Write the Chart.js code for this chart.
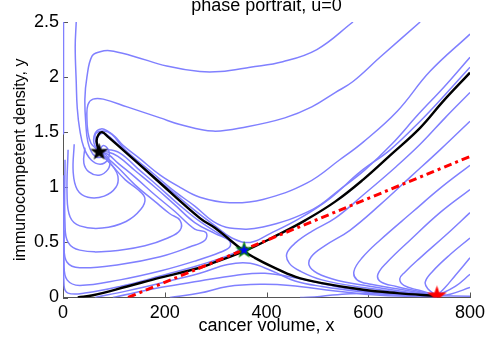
<!DOCTYPE html>
<html>
<head>
<meta charset="utf-8">
<script src="https://cdn.jsdelivr.net/npm/chart.js@4.4.1/dist/chart.umd.min.js"></script>
<style>
  html, body { margin: 0; padding: 0; background: #fff; }
</style>
</head>
<body>
<canvas id="phase" width="493" height="341"></canvas>
<script>
// phase portrait, u=0 : x = cancer volume, y = immunocompetent density
const titleText = 'phase portrait, u=0';
const xTicks = [0, 200, 400, 600, 800];
const yTicks = [0, 0.5, 1, 1.5, 2, 2.5];

// equilibria
const stableFocus = [71, 1.32];
const saddlePoint = [356, 0.43];
const tumorNode = [735, 0.015];

// separatrices (black)
const sepStable = [[29,0],[59,0.02],[126,0.10],[191,0.18],[269,0.27],[299,0.32],[356,0.42],[423,0.57],[476,0.70],[535,0.87],[590,1.07],[643,1.29],[702,1.54],[747,1.78],[800,2.04]];
const sepUnstable = [[71,1.32],[66,1.42],[70,1.48],[77,1.50],[88,1.46],[130,1.29],[181,1.08],[269,0.72],[299,0.63],[356,0.42],[377,0.36],[411,0.28],[456,0.19],[509,0.13],[590,0.07],[657,0.04],[735,0.014]];

// red dash-dot nullcline
const nullcline = [[128,0],[800,1.28]];

// blue trajectories, by region
const topLeft = [
  [[1,2.5],[1,1.48]],
  [[26,2.50],[24,2.27],[26,1.96],[28,1.72],[33,1.52],[41,1.36],[55,1.25],[73,1.21],[88,1.25],[90,1.33],[79,1.38],[71,1.32]],
  [[570,2.50],[499,2.25],[432,2.14],[368,2.09],[309,2.05],[269,2.05],[204,2.10],[138,2.19],[92,2.24],[73,2.23],[57,2.19],[47,2.00],[43,1.80],[45,1.57],[49,1.41],[59,1.30],[73,1.27],[81,1.31],[71,1.32]],
  [[702,2.50],[623,2.18],[570,1.96],[535,1.86],[489,1.73],[436,1.63],[362,1.55],[295,1.51],[230,1.57],[191,1.63],[126,1.73],[79,1.80],[59,1.80],[49,1.75],[47,1.63],[49,1.50],[55,1.40],[65,1.35],[71,1.32]]
];
const aboveSaddle = [
  [[71,1.32],[61,1.40],[63,1.49],[75,1.53],[88,1.51],[102,1.46],[118,1.38],[151,1.26],[191,1.11],[230,1.00],[269,0.91],[328,0.86],[393,0.89],[480,1.04],[544,1.25],[590,1.41],[657,1.69],[721,2.05],[800,2.39]],
  [[71,1.32],[63,1.47],[77,1.51],[96,1.48],[122,1.34],[171,1.15],[220,0.96],[259,0.83],[295,0.69],[328,0.63],[393,0.64],[491,0.80],[544,0.98],[594,1.16],[646,1.39],[698,1.66],[749,1.91],[800,2.18]],
  [[71,1.32],[67,1.44],[79,1.49],[96,1.44],[122,1.33],[171,1.13],[220,0.94],[259,0.79],[299,0.65],[332,0.54],[368,0.50],[407,0.58],[466,0.72],[525,0.90],[584,1.14],[643,1.34],[702,1.60],[751,1.84],[800,2.09]]
];
const rightOfSaddle = [
  [[800,1.86],[751,1.63],[702,1.39],[653,1.18],[590,0.93],[535,0.72],[489,0.60],[458,0.50],[440,0.40],[445,0.31],[468,0.235],[509,0.16],[590,0.09],[662,0.05],[735,0.014]],
  [[800,1.60],[741,1.34],[682,1.09],[623,0.84],[564,0.61],[515,0.47],[488,0.37],[484,0.29],[500,0.22],[540,0.155],[600,0.105],[662,0.06],[735,0.015]],
  [[800,1.20],[741,0.99],[688,0.78],[623,0.52],[588,0.36],[572,0.24],[578,0.16],[605,0.12],[662,0.075],[735,0.016]],
  [[800,0.98],[741,0.77],[682,0.52],[637,0.32],[619,0.21],[624,0.145],[655,0.10],[700,0.055],[735,0.016]],
  [[800,0.77],[751,0.56],[702,0.36],[672,0.23],[662,0.17],[670,0.11],[700,0.065],[735,0.016]],
  [[800,0.54],[761,0.39],[725,0.23],[712,0.14],[717,0.08],[735,0.016]]
];
const intoTumorNode = [
  [[800,0.36],[771,0.20],[751,0.09],[735,0.016]],
  [[800,0.21],[771,0.10],[735,0.016]],
  [[800,0.09],[761,0.03],[735,0.016]],
  [[735,0.016],[800,0.012]]
];
const belowSaddle = [
  [[63,0],[126,0.06],[191,0.13],[269,0.22],[324,0.30],[368,0.31],[411,0.24],[456,0.15],[509,0.10],[590,0.05],[662,0.02],[735,0.01]],
  [[98,0],[191,0.09],[269,0.15],[338,0.20],[397,0.22],[466,0.17],[535,0.10],[603,0.05],[672,0.02],[735,0.01]],
  [[210,0],[269,0.04],[324,0.10],[387,0.12],[446,0.11],[535,0.06],[623,0.02],[735,0.005]],
  [[466,0],[505,0.01],[564,0.035],[650,0.03],[735,0.012]]
];
const leftLoops = [
  [[43,1.36],[41,1.22],[51,1.14],[71,1.11],[88,1.16],[92,1.24],[83,1.30],[71,1.32]],
  [[22,1.39],[20,1.14],[28,0.98],[49,0.91],[81,0.92],[104,1.00],[108,1.10],[98,1.19],[85,1.26],[71,1.32]],
  [[10,1.34],[8,0.93],[14,0.73],[33,0.65],[77,0.63],[124,0.69],[153,0.80],[161,0.90],[147,0.98],[122,1.07],[96,1.20],[79,1.28],[71,1.32]],
  [[4,1.25],[4,0.66],[10,0.50],[33,0.43],[92,0.42],[161,0.47],[206,0.54],[230,0.61],[230,0.70],[210,0.76],[181,0.87],[142,1.02],[108,1.18],[86,1.27],[71,1.32]],
  [[2,1.11],[2,0.48],[8,0.32],[33,0.27],[112,0.30],[191,0.37],[250,0.46],[279,0.52],[281,0.59],[259,0.62],[220,0.78],[181,0.93],[142,1.09],[108,1.22],[88,1.30],[71,1.32]],
  [[2,0.89],[2,0.30],[8,0.16],[33,0.11],[112,0.16],[191,0.24],[259,0.33],[309,0.41],[328,0.46],[326,0.52],[299,0.58],[259,0.68],[220,0.84],[181,1.00],[142,1.15],[108,1.28],[88,1.32],[71,1.32]],
  [[2,0.61],[2,0.11],[10,0.04],[43,0.04],[112,0.10],[191,0.195],[269,0.295],[324,0.38],[344,0.43],[340,0.48],[313,0.56],[269,0.69],[226,0.85],[187,1.01],[147,1.17],[112,1.31],[88,1.34],[71,1.32]]
];

const FONT = '"Liberation Sans", Arial, Helvetica, sans-serif';
const trajBlue = '#8080ff';

function starImage(size, fill, edge) {
  const c = document.createElement('canvas');
  c.width = c.height = size + 4;
  const g = c.getContext('2d');
  const cx = c.width / 2, cy = c.height / 2, R = size / 2, r = R * 0.4;
  g.beginPath();
  for (let i = 0; i < 10; i++) {
    const rad = i % 2 ? r : R;
    const ang = -Math.PI / 2 + i * Math.PI / 5;
    g.lineTo(cx + rad * Math.cos(ang), cy + rad * Math.sin(ang));
  }
  g.closePath();
  g.fillStyle = fill;
  g.fill();
  g.strokeStyle = edge;
  g.lineWidth = 1.2;
  g.stroke();
  return c;
}

const toXY = pts => pts.map(([x, y]) => ({ x, y }));
const line = (pts, color, width, order, dash) => ({
  data: toXY(pts), showLine: true, borderColor: color, borderWidth: width,
  borderDash: dash || [], pointRadius: 0, tension: 0.4, order
});
const marker = (pt, img) => ({
  data: toXY([pt]), showLine: false, pointStyle: img, pointRadius: 8, order: 0
});

const datasets = [];
[topLeft, aboveSaddle, rightOfSaddle, intoTumorNode, belowSaddle, leftLoops]
  .forEach(group => group.forEach(t => datasets.push(line(t, trajBlue, 1.5, 3))));
datasets.push(line(sepStable, '#000', 2.4, 2));
datasets.push(line(sepUnstable, '#000', 2.4, 2));
datasets.push(line(nullcline, '#ff0000', 3, 1, [8, 4, 3, 4]));
datasets.push(marker(stableFocus, starImage(15, '#000', '#000')));
datasets.push(marker(saddlePoint, starImage(15, '#0000ff', '#008000')));
datasets.push(marker(tumorNode, starImage(17, '#ff0000', '#ff0000')));

// MATLAB-style inward ticks, title clipped at top
const inwardTicks = {
  id: 'inwardTicks',
  beforeDatasetsDraw(chart) {
    const { ctx, chartArea: a, scales: { x, y } } = chart;
    ctx.save();
    ctx.strokeStyle = '#555';
    ctx.lineWidth = 1;
    ctx.beginPath();
    x.ticks.forEach(t => {
      const p = Math.round(x.getPixelForValue(t.value)) + 0.5;
      ctx.moveTo(p, a.bottom); ctx.lineTo(p, a.bottom - 5);
    });
    y.ticks.forEach(t => {
      const p = Math.round(y.getPixelForValue(t.value)) + 0.5;
      ctx.moveTo(a.left, p); ctx.lineTo(a.left + 5, p);
    });
    ctx.stroke();
    ctx.restore();
  },
  afterDraw(chart) {
    const { ctx, chartArea: a } = chart;
    ctx.save();
    ctx.font = '18px ' + FONT;
    ctx.fillStyle = '#000';
    ctx.textAlign = 'center';
    ctx.textBaseline = 'alphabetic';
    ctx.fillText(titleText, (a.left + a.right) / 2, 11);
    ctx.restore();
  }
};

new Chart(document.getElementById('phase'), {
  type: 'scatter',
  data: { datasets },
  plugins: [inwardTicks],
  options: {
    responsive: false,
    animation: false,
    events: [],
    layout: { padding: { top: 22, right: 23, left: 0, bottom: 0 } },
    plugins: { legend: { display: false }, tooltip: { enabled: false } },
    scales: {
      x: {
        type: 'linear', min: 0, max: 800,
        afterBuildTicks: s => { s.ticks = xTicks.map(v => ({ value: v })); },
        afterFit: s => { s.height = 43.5; },
        grid: { display: false, drawTicks: false },
        border: { display: true, color: '#555', width: 1 },
        ticks: { color: '#000', padding: 5, maxRotation: 0, callback: v => String(v), font: { family: FONT, size: 18 } },
        title: { display: true, text: 'cancer volume, x', color: '#000', padding: { top: 0, bottom: 4 }, font: { family: FONT, size: 18 } }
      },
      y: {
        type: 'linear', min: 0, max: 2.5,
        afterBuildTicks: s => { s.ticks = yTicks.map(v => ({ value: v })); },
        afterFit: s => { s.width = 63; },
        grid: { display: false, drawTicks: false },
        border: { display: true, color: '#555', width: 1 },
        ticks: { color: '#000', padding: 4, callback: v => String(v), font: { family: FONT, size: 18 } },
        title: { display: true, text: 'immunocompetent density, y', color: '#000', padding: { top: 11, bottom: 0 }, font: { family: FONT, size: 16 } }
      }
    }
  }
});
</script>
</body>
</html>
